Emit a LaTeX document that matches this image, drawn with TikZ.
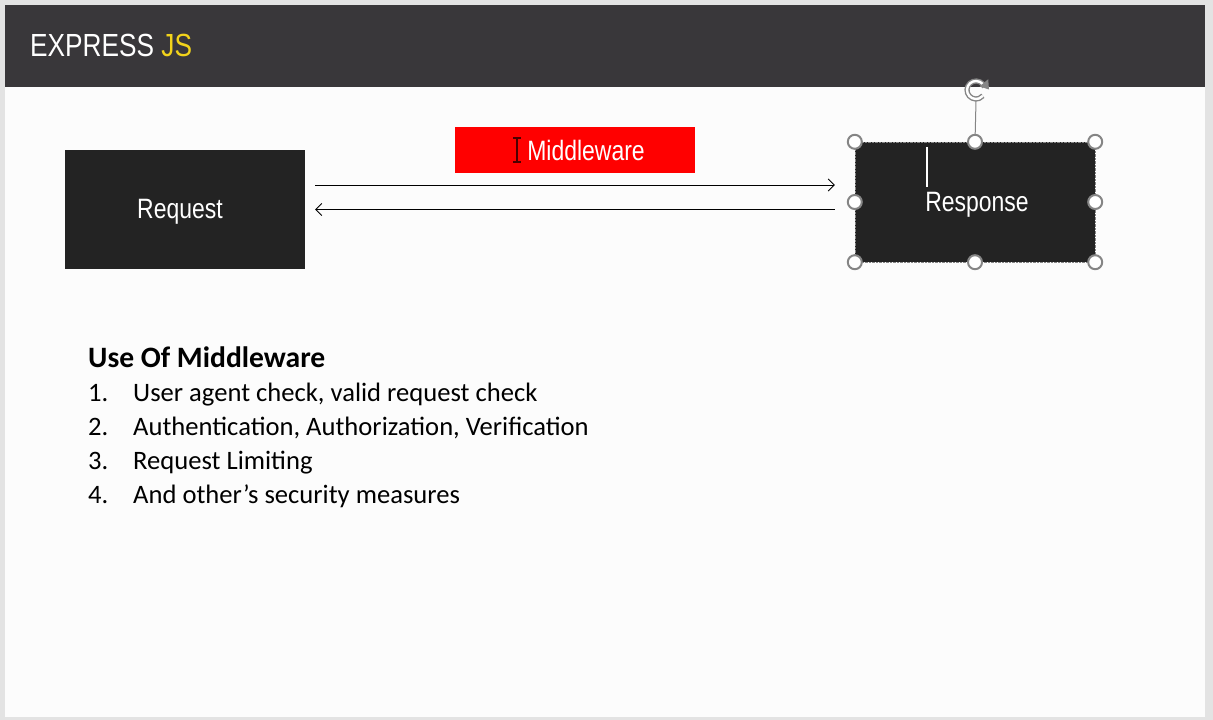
\documentclass[tikz,border=0pt]{standalone}
\usepackage{fontspec}
\setmainfont{Carlito}
\newfontfamily\condfont[FakeStretch=0.82]{Liberation Sans}
\usetikzlibrary{positioning,arrows.meta}
\definecolor{headgray}{HTML}{39373A}
\definecolor{boxgray}{HTML}{232323}
\definecolor{jsyellow}{HTML}{F2D31B}
\definecolor{framegray}{HTML}{E3E3E3}
\definecolor{handlegray}{HTML}{858585}
\tikzset{
  darkbox/.style={fill=boxgray,text=white,minimum width=240pt,inner sep=0pt,
    font=\condfont\fontsize{28}{30}\selectfont},
  handle/.style={fill=white,draw=handlegray,line width=2pt},
  flow/.style={line width=0.8pt,-{Straight Barb[length=6pt,width=12pt]}},
  listtext/.style={anchor=base west,inner sep=0pt,font=\fontsize{26.6}{32}\selectfont}
}
\begin{document}
\begin{tikzpicture}[x=1pt,y=-1pt]
  \useasboundingbox (0,0) rectangle (1213,720);
  \fill[framegray] (0,0) rectangle (1213,720);
  \fill[white!99!black] (5,5) rectangle (1205,717);
  \fill[headgray] (5,5) rectangle (1205,87);
  \node[anchor=base west,inner sep=0pt,text=white,font=\condfont\fontsize{32}{34}\selectfont]
    (title) at (30,56) {EXPRESS \textcolor{jsyellow}{JS}};
  % request / middleware / response
  \node[darkbox,minimum height=119pt] (req) at (185,209.5) {};
  \node[text=white,font=\condfont\fontsize{28}{30}\selectfont] (reqtext) at (180,212) {Request};
  \node[darkbox,minimum height=120pt] (resp) at (975,202) {};
  \node[text=white,font=\condfont\fontsize{28}{30}\selectfont] (resptext) at (977,205) {Response};
  \node[darkbox,fill=red,minimum height=46pt] (mw) at (575,150) {\hspace{22pt}Middleware};
  \coordinate (a1) at ([shift={(10pt,24.5pt)}]req.east);
  \coordinate (a2) at ([xshift=10pt]req.east);
  \draw[flow,shorten >=20pt] (a1) -- (a1 -| resp.west);
  \draw[flow,shorten <=20pt] (a2 -| resp.west) -- (a2);
  % selection of the response box
  \draw[handlegray,densely dotted,line width=0.4pt] (resp.north west) rectangle (resp.south east);
  \coordinate (rot) at (976,90);
  \draw[handlegray,line width=1pt] (resp.north) -- (976,101);
  \foreach \a in {north west,north,north east,east,south east,south,south west,west}
    \filldraw[handle] (resp.\a) circle (7pt);
  \draw[handlegray,double=white,double distance=2.4pt,line width=1.4pt]
    ([shift={(20:9pt)}]rot) arc (20:320:9pt);
  \fill[handlegray] (988.2,79.2) -- (979.6,86.4) -- (989,89.5) -- cycle;
  \draw[white,line width=1.5pt] (927,147) -- (927,187);
  % text cursor
  \draw[black!70!red,line width=1.5pt] (517,138) -- (517,162)
    (513,138) -- (521,138) (513,162) -- (521,162);
  % use of middleware
  \node[anchor=base west,inner sep=0pt,font=\bfseries\fontsize{29.6}{34}\selectfont]
    (head) at (88,367) {Use Of Middleware};
  \foreach \i/\t in {1/{User agent check, valid request check},
      2/{Authentication, Authorization, Verification},
      3/{Request Limiting},
      4/{And other’s security measures}} {
    \node[listtext] (num\i) at (88,367+34*\i) {\i.};
    \node[listtext] (itm\i) at (133,367+34*\i) {\t};
  }
\end{tikzpicture}
\end{document}
